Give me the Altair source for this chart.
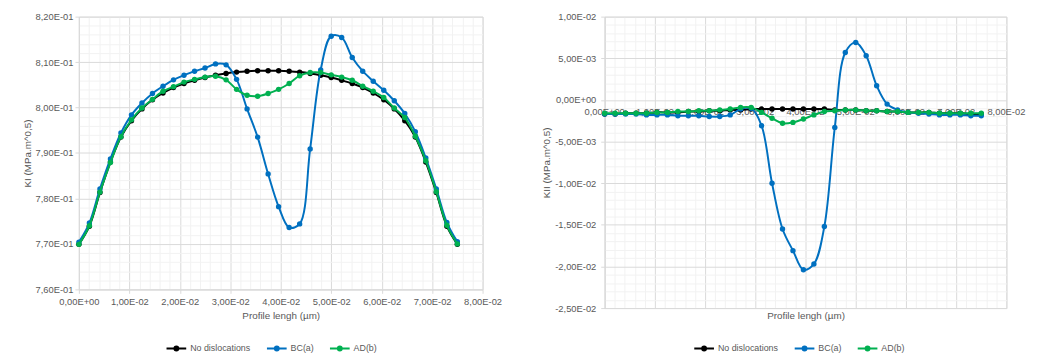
import json
import altair as alt
import pandas as pd

FONT = "Liberation Sans"

# ---------------- data ----------------
x_um = [0.0, 0.00208, 0.00417, 0.00625, 0.00833, 0.01042, 0.0125, 0.01458, 0.01667,
        0.01875, 0.02083, 0.02292, 0.025, 0.02708, 0.02917, 0.03125, 0.03333, 0.03542,
        0.0375, 0.03958, 0.04167, 0.04375, 0.04583, 0.04792, 0.05, 0.05208, 0.05417,
        0.05625, 0.05833, 0.06042, 0.0625, 0.06458, 0.06667, 0.06875, 0.07083, 0.07292, 0.075]

series_names = ["No dislocations", "BC(a)", "AD(b)"]
series_colors = ["#000000", "#0070C0", "#00B050"]

ki_none = [0.7699, 0.7739, 0.7813, 0.7880, 0.7935, 0.7971, 0.7997, 0.8017, 0.8032, 0.8044,
           0.8053, 0.8060, 0.8066, 0.8071, 0.8075, 0.8078, 0.8080, 0.8081, 0.8081, 0.8081,
           0.8080, 0.8078, 0.8075, 0.8071, 0.8066, 0.8060, 0.8053, 0.8044, 0.8032, 0.8017,
           0.7997, 0.7971, 0.7935, 0.7880, 0.7813, 0.7739, 0.7699]
ki_bc = [0.7704, 0.7746, 0.7821, 0.7887, 0.7944, 0.7984, 0.8010, 0.8031, 0.8047, 0.8061,
         0.8071, 0.8080, 0.8087, 0.8096, 0.8094, 0.8062, 0.7997, 0.7935, 0.7854, 0.7782,
         0.7736, 0.7744, 0.7909, 0.8083, 0.8157, 0.8154, 0.8110, 0.8080, 0.8058, 0.8038,
         0.8015, 0.7987, 0.7947, 0.7889, 0.7821, 0.7747, 0.7705]
ki_ad = [0.7699, 0.7740, 0.7814, 0.7879, 0.7936, 0.7973, 0.7999, 0.8018, 0.8036, 0.8046,
         0.8056, 0.8062, 0.8067, 0.8069, 0.8061, 0.8040, 0.8027, 0.8025, 0.8031, 0.8040,
         0.8053, 0.8070, 0.8077, 0.8077, 0.8072, 0.8067, 0.8060, 0.8047, 0.8036, 0.8022,
         0.7999, 0.7978, 0.7937, 0.7883, 0.7815, 0.7741, 0.7700]

kii_none = [-0.0017, -0.0017, -0.0016, -0.0016, -0.0016, -0.0015, -0.0015, -0.0015, -0.0014,
            -0.0014, -0.0013, -0.0013, -0.0012, -0.0012, -0.0011, -0.0011, -0.0011, -0.0011,
            -0.0011, -0.0011, -0.0011, -0.0011, -0.0012, -0.0012, -0.0012, -0.0013, -0.0013,
            -0.0014, -0.0014, -0.0015, -0.0015, -0.0015, -0.0016, -0.0016, -0.0016, -0.0017, -0.0017]
kii_bc = [-0.0017, -0.0017, -0.0017, -0.0017, -0.0018, -0.0018, -0.0018, -0.0019, -0.0019,
          -0.0019, -0.0020, -0.0020, -0.0018, -0.0011, -0.0010, -0.0031, -0.0100, -0.0155,
          -0.0181, -0.0204, -0.0197, -0.0152, -0.0033, 0.0057, 0.0069, 0.0053, 0.0017,
          -0.0005, -0.0012, -0.0015, -0.0016, -0.0017, -0.0018, -0.0018, -0.0018, -0.0019, -0.0019]
kii_ad = [-0.0016, -0.0016, -0.0016, -0.0016, -0.0016, -0.0015, -0.0015, -0.0014, -0.0014,
          -0.0013, -0.0013, -0.0012, -0.0011, -0.0009, -0.0009, -0.0015, -0.0022, -0.0028,
          -0.0027, -0.0023, -0.0018, -0.0014, -0.0013, -0.0012, -0.0012, -0.0013, -0.0013,
          -0.0014, -0.0014, -0.0015, -0.0015, -0.0015, -0.0016, -0.0016, -0.0016, -0.0016, -0.0016]

x_ticks = [0.0, 0.01, 0.02, 0.03, 0.04, 0.05, 0.06, 0.07, 0.08]
x_tick_labels = ["0,00E+00", "1,00E-02", "2,00E-02", "3,00E-02", "4,00E-02",
                 "5,00E-02", "6,00E-02", "7,00E-02", "8,00E-02"]
ki_ticks = [0.76, 0.77, 0.78, 0.79, 0.80, 0.81, 0.82]
ki_tick_labels = ["7,60E-01", "7,70E-01", "7,80E-01", "7,90E-01", "8,00E-01", "8,10E-01", "8,20E-01"]
kii_ticks = [-0.025, -0.02, -0.015, -0.01, -0.005, 0.0, 0.005, 0.01]
kii_tick_labels = ["-2,50E-02", "-2,00E-02", "-1,50E-02", "-1,00E-02", "-5,00E-03",
                   "0,00E+00", "5,00E-03", "1,00E-02"]

x_title = "Profile lengh (µm)"
ki_title = "KI (MPa.m^0,5)"
kii_title = "KII (MPa.m^0,5)"

# minor grid positions (5 subdivisions per major interval)
x_minor = [round(k * 0.002, 4) for k in range(41) if k % 5 != 0]
ki_minor = [round(0.76 + k * 0.002, 4) for k in range(31) if k % 5 != 0]
kii_minor = [round(-0.025 + k * 0.001, 4) for k in range(36) if k % 5 != 0]

LEGEND_PATH = ("M-1,0L1,0"
               "M0.2,0A0.2,0.2 0 1,1 -0.2,0A0.2,0.2 0 1,1 0.2,0"
               "M0.1,0A0.1,0.1 0 1,1 -0.1,0A0.1,0.1 0 1,1 0.1,0")

AXIS_TEXT = dict(labelFont=FONT, labelFontSize=9.5, labelColor="#595959",
                 titleFont=FONT, titleFontSize=10, titleColor="#595959",
                 titleFontWeight="normal", gridColor="#d9d9d9", domainColor="#d9d9d9",
                 tickColor="#d9d9d9", labelFlush=False, labelOverlap=False)


def panel(values, y_domain, y_ticks, y_labels, y_minor, y_title, width, height, zero_axis,
          legend_x):
    rows = []
    for name, vals in zip(series_names, values):
        for xv, yv in zip(x_um, vals):
            rows.append({"x": xv, "y": yv, "series": name})
    df = pd.DataFrame(rows)

    xs = alt.Scale(domain=[0, 0.08], nice=False, zero=False)
    ys = alt.Scale(domain=y_domain, nice=False, zero=False)
    ymin = y_domain[0]
    step = y_ticks[1] - y_ticks[0]
    y_label_expr = f"{json.dumps(y_labels)}[round((datum.value - ({ymin})) / {step})]"
    x_label_expr = f"{json.dumps(x_tick_labels)}[round(datum.value * 100)]"

    minor = alt.Chart(df).mark_point(opacity=0).encode(
        x=alt.X("x:Q", scale=xs, axis=alt.Axis(values=x_minor, grid=True, gridColor="#f2f2f2",
                                               labels=False, ticks=False, domain=False,
                                               title=None, orient="bottom")),
        y=alt.Y("y:Q", scale=ys, axis=alt.Axis(values=y_minor, grid=True, gridColor="#f2f2f2",
                                               labels=False, ticks=False, domain=False,
                                               title=None, orient="left")),
    )

    if zero_axis:
        x_axis = alt.Axis(values=x_ticks, grid=True, labels=False, ticks=False, domain=False,
                          title=x_title, titlePadding=3, orient="bottom", **AXIS_TEXT)
    else:
        x_axis = alt.Axis(values=x_ticks, grid=True, labelExpr=x_label_expr, tickSize=4,
                          labelPadding=3, title=x_title, titlePadding=5, orient="bottom",
                          **AXIS_TEXT)
    y_axis = alt.Axis(values=y_ticks, grid=True, labelExpr=y_label_expr, tickSize=4,
                      labelPadding=2 if not zero_axis else 5,
                      title=y_title, titlePadding=3, orient="left", **AXIS_TEXT)

    legend = alt.Legend(title=None, orient="none", legendX=legend_x, legendY=326,
                        direction="horizontal", symbolType=LEGEND_PATH, symbolSize=400,
                        symbolStrokeWidth=2, labelFont=FONT, labelFontSize=9,
                        labelColor="#595959", columnPadding=12, labelOffset=3)
    color_scale = alt.Scale(domain=series_names, range=series_colors)

    layers = [minor]
    if zero_axis:
        tdf = pd.DataFrame({"x": x_ticks, "y": [0.0] * len(x_ticks), "label": x_tick_labels})
        layers.append(alt.Chart(tdf).mark_text(dy=12, fontSize=9.5, font=FONT, color="#595959").encode(
            x=alt.X("x:Q", scale=xs, axis=None),
            y=alt.Y("y:Q", scale=ys, axis=None),
            text="label:N"))
    first = True
    for name in series_names:
        base = alt.Chart(df).transform_filter(alt.datum.series == name)
        line = base.mark_line(interpolate="catmull-rom", strokeWidth=2).encode(
            x=alt.X("x:Q", scale=xs, axis=x_axis if first else None),
            y=alt.Y("y:Q", scale=ys, axis=y_axis if first else None),
            color=alt.Color("series:N", scale=color_scale, legend=legend),
        )
        pts = base.mark_circle(size=30, opacity=1).encode(
            x=alt.X("x:Q", scale=xs, axis=None),
            y=alt.Y("y:Q", scale=ys, axis=None),
            color=alt.Color("series:N", scale=color_scale, legend=None),
        )
        layers += [line, pts]
        first = False

    return alt.layer(*layers).resolve_axis(x="independent", y="independent").properties(
        width=width, height=height)


left = panel([ki_none, ki_bc, ki_ad], [0.76, 0.82], ki_ticks, ki_tick_labels, ki_minor,
             ki_title, 410, 277, False, 88)
right = panel([kii_none, kii_bc, kii_ad], [-0.025, 0.01], kii_ticks, kii_tick_labels, kii_minor,
              kii_title, 408, 296, True, 90)

chart = alt.hconcat(left, right, spacing=124, bounds="flush").resolve_scale(
    color="independent").properties(
    padding={"left": 13, "top": 0, "right": 5, "bottom": 5}
).configure_view(stroke=None).configure(background="white")

chart.save("out.html", embed_options={"renderer": "svg", "actions": False})
